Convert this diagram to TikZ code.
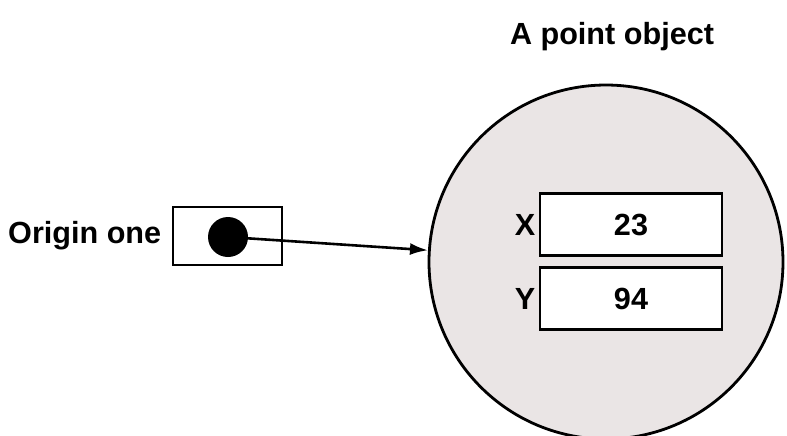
\documentclass[tikz,border=0pt]{standalone}
\usepackage{fontspec}
\setmainfont{Liberation Sans}
\usepackage{xcolor}
\usepackage{tikz}
\usetikzlibrary{arrows.meta,positioning}
\definecolor{objgray}{HTML}{EAE5E5}

\begin{document}
\begin{tikzpicture}[
        x=0.5pt,y=-0.5pt,
        every node/.style={font=\fontsize{15.3}{18}\selectfont\bfseries},
        refbox/.style={draw,line width=1.4pt,fill=white,inner sep=0pt,
                       minimum width=54.5pt,minimum height=29pt},
        valbox/.style={draw,line width=1.4pt,fill=white,inner sep=0pt,
                       minimum width=91pt,minimum height=31pt},
        objcirc/.style={draw,circle,line width=1.4pt,fill=objgray,
                        inner sep=0pt,minimum size=177pt},
        arr/.style={-{Latex[length=9pt,width=6pt]}, line width=1.3pt}
    ]
      \useasboundingbox (0,0) rectangle (787,435);
      \node[objcirc] (obj) at (606,262) {};
      \node (title) at (612,37) {A point object};
      \node[refbox] (ref) at (227.5,236) {};
      \node[circle,fill=black,inner sep=0pt,minimum size=20pt] (dot) at (228,237) {};
      \node[inner sep=0pt, left=5pt of ref] (name) {Origin one};
      \node[valbox] (xval) at (631,224.5) {23};
      \node[valbox] (yval) at (631,298.5) {94};
      \node[inner sep=0pt, left=1.5pt of xval] (xlbl) {X};
      \node[inner sep=0pt, left=1.5pt of yval] (ylbl) {Y};
      \draw[arr] (dot.center) -- (obj);
    \end{tikzpicture}
\end{document}
